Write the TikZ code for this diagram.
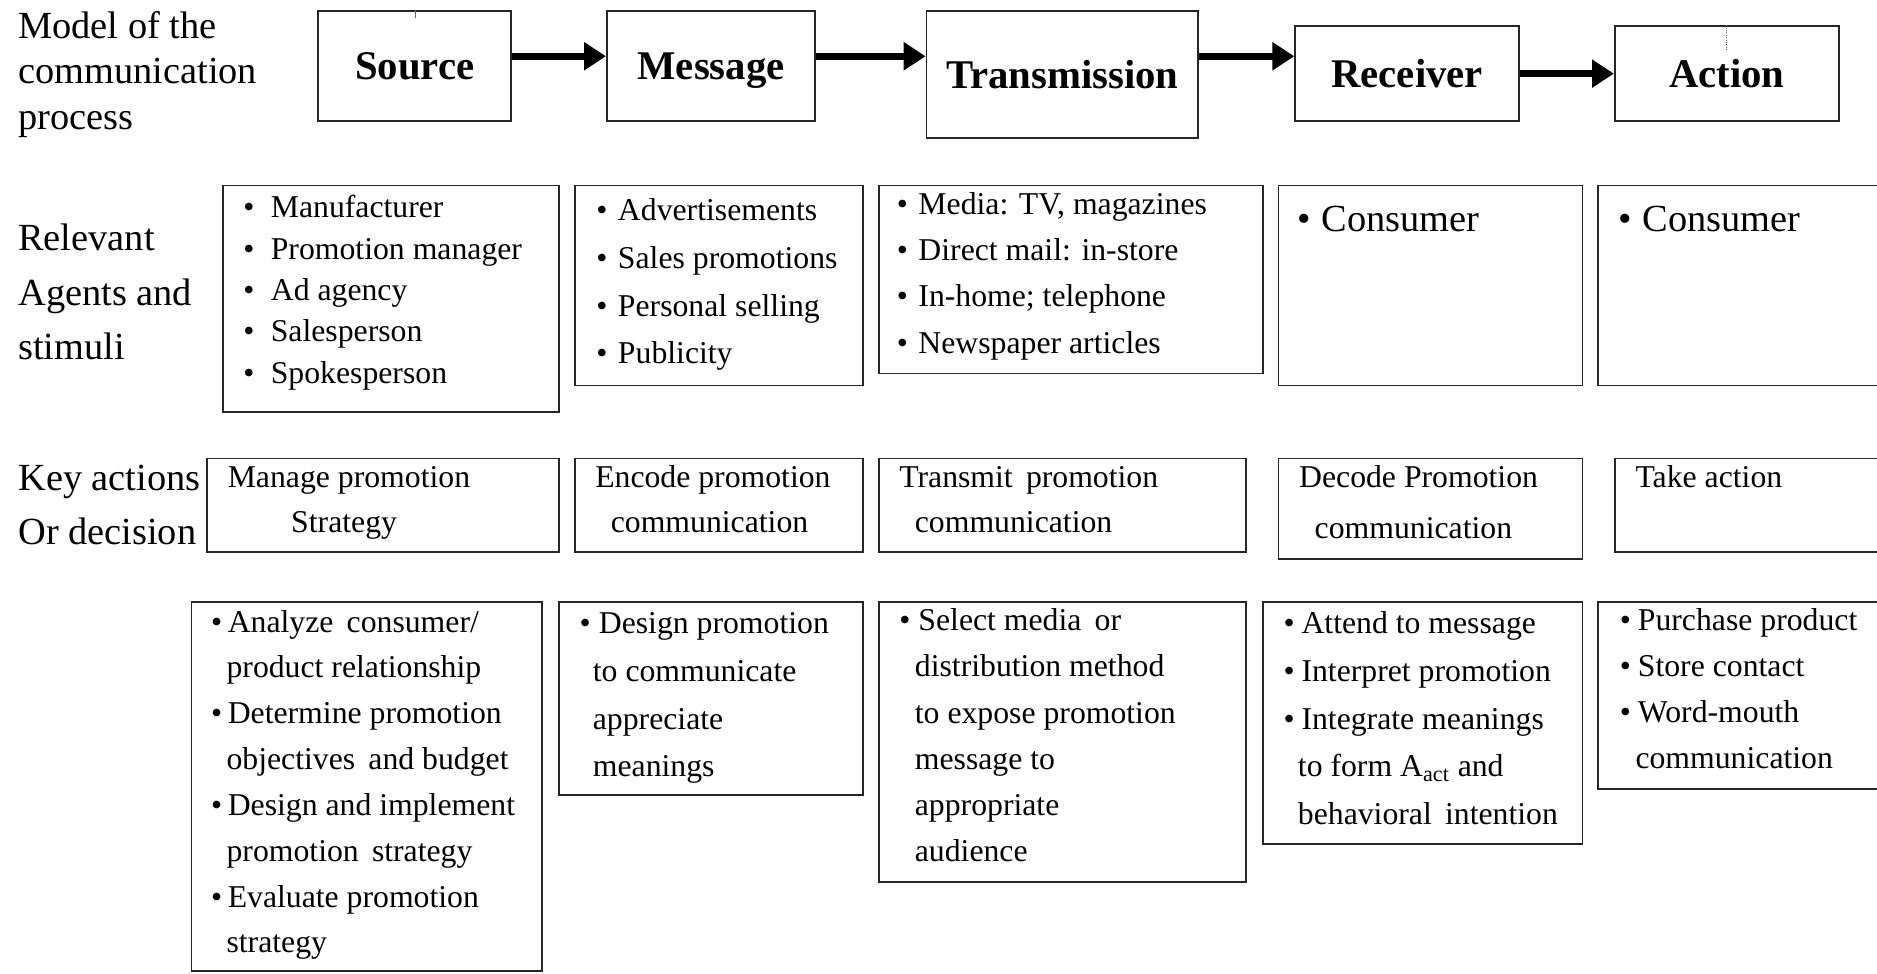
\documentclass[tikz,border=0pt]{standalone}
\usepackage{fontspec}
\setmainfont{Liberation Serif}
\usetikzlibrary{arrows.meta}
\newlength\dpx \setlength\dpx{0.025cm}
\newcommand\bl[1]{\makebox[#1\dpx][l]{\textbullet}}
\newcommand\cn[1]{\hspace*{#1\dpx}}
\tikzset{
  box/.style={draw=black!85, line width=1.1pt},
  head/.style={box, font=\fontsize{24.2}{29}\selectfont\bfseries, inner sep=0pt, text depth=0pt},
  lbl/.style={anchor=base west, inner sep=0pt, font=\fontsize{22.8}{27}\selectfont},
  txt/.style={anchor=base west, inner sep=0pt, font=\fontsize{18.85}{22}\selectfont},
  big/.style={txt, font=\fontsize{22.8}{27}\selectfont},
  flow/.style={line width=4.3pt, -{Triangle[length=13pt,width=16pt]}},
}
\begin{document}
\begin{tikzpicture}[x=0.025cm, y=-0.025cm]
  \useasboundingbox (0,0) rectangle (1568,813);
  % row labels
  \node[lbl] (mod1) at (15,32) {Model of the};
  \node[lbl] (mod2) at (15,70) {communication};
  \node[lbl] (mod3) at (15,108) {process};
  \node[lbl] (rel1) at (15,209) {Relevant};
  \node[lbl] (rel2) at (15,255) {Agents and};
  \node[lbl] (rel3) at (15,300) {stimuli};
  \node[lbl] (key1) at (15,410) {Key actions};
  \node[lbl] (key2) at (15,455) {Or decision};
  % process
  \node[head, minimum width=161\dpx, minimum height=92\dpx] (src) at (346.5,55) {Source};
  \node[head, minimum width=174\dpx, minimum height=92\dpx] (msg) at (594,55) {Message};
  \node[head, minimum width=227\dpx, minimum height=106\dpx] (trn) at (887.5,62) {Transmission};
  \node[head, minimum width=187\dpx, minimum height=79\dpx] (rcv) at (1175.5,61.5) {Receiver};
  \node[head, minimum width=187\dpx, minimum height=79\dpx] (act) at (1442.5,61.5) {Action};
  \coordinate (ar) at (0,47);
  \draw[flow] (src.east |- ar) -- (msg.west |- ar);
  \draw[flow] (msg.east |- ar) -- (trn.west |- ar);
  \draw[flow] (trn.east |- ar) -- (rcv.west |- ar);
  \draw[flow] (rcv) -- (act);
  \draw[black!60, very thin] (src.north) -- ++(0,7);
  \draw[black!60, thin, densely dotted] (act.north) -- ++(0,20);
  % boxes
  \foreach \a/\b/\c/\d in {186/155/467/344, 480/155/721/322, 734/155/1055/312,
      1068/155/1322/322, 1335/155/1590/322, 173/383/467/461, 480/383/721/461,
      734/383/1041/461, 1068/383/1322/467, 1349/383/1590/461, 160/503/453/811,
      467/503/721/664, 734/503/1041/737, 1055/503/1322/705, 1335/503/1590/659}
    \draw[box] (\a,\b) rectangle (\c,\d);
  % agents and stimuli
  \foreach \t [count=\i from 0] in {Manufacturer, Promotion manager, Ad agency,
      Salesperson, Spokesperson}
    \node[txt] (ag\i) at (203,182+34.5*\i) {\bl{23}\t};
  \foreach \t [count=\i from 0] in {Advertisements, Sales promotions,
      Personal selling, Publicity}
    \node[txt] (ms\i) at (498,184+40*\i) {\bl{18}\t};
  \foreach \t [count=\i from 0] in {{Media: TV, magazines}, {Direct mail: in-store},
      {In-home; telephone}, Newspaper articles}
    \node[txt] (md\i) at (749,179+38.7*\i) {\bl{18}\t};
  \node[big] (cs1) at (1084,193) {\bl{20}Consumer};
  \node[big] (cs2) at (1352,193) {\bl{20}Consumer};
  % key actions
  \node[txt] (ka1) at (190,407) {Manage promotion};
  \node[txt] (ka2) at (243,445) {Strategy};
  \node[txt] (kb1) at (497,407) {Encode promotion};
  \node[txt] (kb2) at (510,445) {communication};
  \node[txt] (kc1) at (751,407) {Transmit\, promotion};
  \node[txt] (kc2) at (764,445) {communication};
  \node[txt] (kd1) at (1085,407) {Decode Promotion};
  \node[txt] (kd2) at (1098,450) {communication};
  \node[txt] (ke1) at (1366,407) {Take action};
  % decisions
  \foreach \t [count=\i from 0] in {\bl{14}Analyze\, consumer/, \cn{13}product relationship,
      \bl{14}Determine promotion, \cn{13}objectives\, and budget,
      \bl{14}Design and implement, \cn{13}promotion\, strategy,
      \bl{14}Evaluate promotion, \cn{13}strategy}
    \node[txt] (da\i) at (176,528+38.3*\i) {\t};
  \foreach \t [count=\i from 0] in {\bl{16}Design promotion, \cn{11}to communicate,
      \cn{11}appreciate, \cn{11}meanings}
    \node[txt] (db\i) at (484,529+40*\i) {\t};
  \foreach \t [count=\i from 0] in {\bl{16}Select media\, or, \cn{13}distribution method,
      \cn{13}to expose promotion, \cn{13}message to, \cn{13}appropriate, \cn{13}audience}
    \node[txt] (dc\i) at (751,527+38.5*\i) {\t};
  \foreach \t [count=\i from 0] in {\bl{15}Attend to message, \bl{15}Interpret promotion,
      \bl{15}Integrate meanings, \cn{12}to form A\textsubscript{act} and,
      \cn{12}behavioral\, intention}
    \node[txt] (dd\i) at (1072,529+40*\i) {\t};
  \foreach \t [count=\i from 0] in {\bl{15}Purchase product, \bl{15}Store contact,
      \bl{15}Word-mouth, \cn{13}communication}
    \node[txt] (de\i) at (1353,527+38.3*\i) {\t};
\end{tikzpicture}
\end{document}
